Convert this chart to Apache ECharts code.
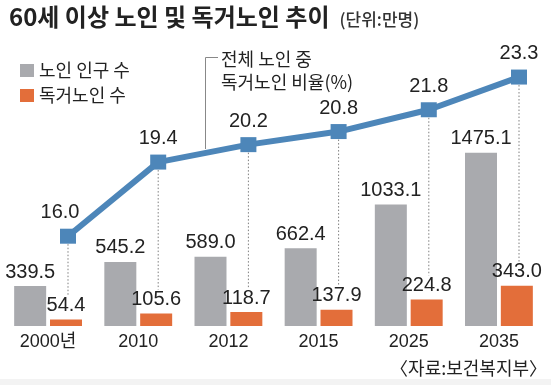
<!DOCTYPE html>
<html><head><meta charset="utf-8">
<script src="https://cdn.jsdelivr.net/npm/echarts@6/dist/echarts.min.js"></script>
<style>html,body{margin:0;padding:0;background:#fff}#c{width:551px;height:385px}</style>
</head><body><div id="c"></div>
<script>
const categories = ['2000년', '2010', '2012', '2015', '2025', '2035'];
const elderly = [339.5, 545.2, 589.0, 662.4, 1033.1, 1475.1];
const alone = [54.4, 105.6, 118.7, 137.9, 224.8, 343.0];
const aloneRatio = [16.0, 19.4, 20.2, 20.8, 21.8, 23.3];
const seriesNames = ['노인 인구 수', '독거노인 수', '전체 노인 중 독거노인 비율(%)'];

const NUM = '"Liberation Sans", Arial, "Noto Sans CJK KR", sans-serif';
const KR = '"Noto Sans CJK KR", sans-serif';
const TXT = '#222';

const chart = echarts.init(document.getElementById('c'), null, {renderer: 'canvas'});

const option = {
  animation: false,
  backgroundColor: '#fff',
  title: {
    left: 4, top: 0,
    text: '{a|60세 이상 노인 및 독거노인 추이}{b|(단위:만명)}',
    textStyle: {
      rich: {
        a: {fontFamily: KR, fontSize: 24, fontWeight: 'bold', color: TXT},
        b: {fontFamily: KR, fontSize: 17, fontWeight: 500, color: '#333', padding: [5, 0, 0, 10]}
      }
    }
  },
  legend: {
    data: [seriesNames[0], seriesNames[1]],
    orient: 'vertical', left: 15, top: 56,
    itemWidth: 14, itemHeight: 13, itemGap: 6,
    icon: 'rect',
    textStyle: {fontFamily: KR, fontSize: 18, color: TXT, lineHeight: 19}
  },
  grid: [
    {left: 3, width: 541, top: 91, bottom: 59},
    {left: 68, width: 451, top: 40, bottom: 18}
  ],
  xAxis: [
    {type: 'category', gridIndex: 0, data: categories,
     axisLine: {show: false}, axisTick: {show: false},
     axisLabel: {fontFamily: NUM, fontSize: 18, color: TXT, margin: 7}},
    {type: 'category', gridIndex: 1, data: categories, boundaryGap: false, show: false}
  ],
  yAxis: [
    {type: 'value', gridIndex: 0, min: 0, max: 2000, show: false, splitLine: {show: false}},
    {type: 'value', gridIndex: 1, min: 10, max: 25, show: false, splitLine: {show: false}}
  ],
  series: [
    {
      name: seriesNames[0], type: 'bar', xAxisIndex: 0, yAxisIndex: 0,
      data: elderly, barWidth: 32, barGap: '12%',
      itemStyle: {color: '#a9aaae'},
      label: {show: true, position: 'top', distance: 4, fontFamily: NUM, fontSize: 20, color: TXT,
        formatter: p => p.value.toFixed(1)}
    },
    {
      name: seriesNames[1], type: 'bar', xAxisIndex: 0, yAxisIndex: 0,
      data: alone, barWidth: 32,
      itemStyle: {color: '#e36e3a'},
      label: {show: true, position: 'top', distance: 4, fontFamily: NUM, fontSize: 20, color: TXT,
        formatter: p => p.value.toFixed(1)}
    },
    {
      name: 'guides', type: 'custom', xAxisIndex: 1, yAxisIndex: 1,
      data: aloneRatio.map((v, i) => [i, v, alone[i]]),
      silent: true, z: 1,
      renderItem: function (params, api) {
        const p = api.coord([api.value(0), api.value(1)]);
        const yb = chart.convertToPixel({yAxisIndex: 0}, api.value(2)) - 24;
        return {
          type: 'line',
          shape: {x1: p[0], y1: p[1] + 8, x2: p[0], y2: yb},
          style: {stroke: '#7f7f7f', lineWidth: 1, lineDash: [1.5, 2]}
        };
      }
    },
    {
      name: seriesNames[2], type: 'line', xAxisIndex: 1, yAxisIndex: 1,
      data: aloneRatio.map((v, i) => i === 0 ? {value: v, label: {offset: [-8, 0]}} : v),
      symbol: 'rect', symbolSize: [16, 15], z: 5,
      lineStyle: {color: '#4d86b9', width: 6},
      itemStyle: {color: '#4d86b9'},
      label: {show: true, position: 'top', distance: 6, fontFamily: NUM, fontSize: 20, color: TXT,
        formatter: p => Number(p.value).toFixed(1)}
    }
  ],
  graphic: [
    {type: 'polyline', silent: true,
     shape: {points: [[218, 57.5], [205.5, 57.5], [205.5, 149]]},
     style: {stroke: '#888', lineWidth: 1, fill: null}},
    {type: 'text', left: 221, top: 48,
     style: {text: '전체 노인 중\n독거노인 비율(%)', font: '18px "Noto Sans CJK KR"', fill: TXT, lineHeight: 23}},
    {type: 'text', right: 4, top: 359,
     style: {text: '〈자료:보건복지부〉', font: '18px "Noto Sans CJK KR"', fill: TXT}},
    {type: 'rect', silent: true, z: -1, shape: {x: 0, y: 379, width: 551, height: 6}, style: {fill: '#f3f3f3'}}
  ]
};
chart.setOption(option);
</script>
</body></html>
